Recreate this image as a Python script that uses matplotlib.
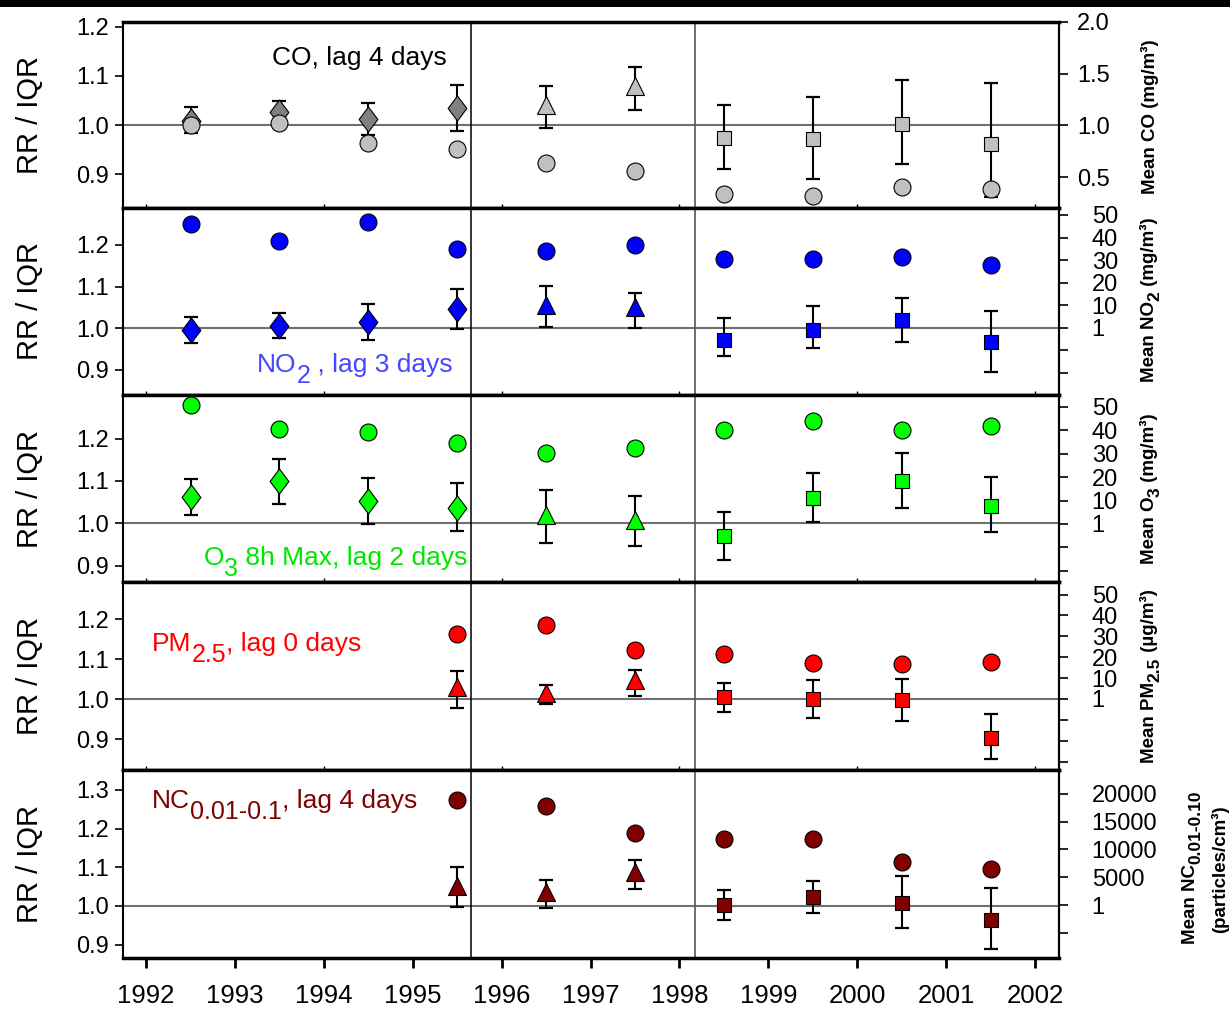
import numpy as np
import matplotlib
matplotlib.use('Agg')
import matplotlib.pyplot as plt
from matplotlib.path import Path
from matplotlib.patches import Rectangle
from matplotlib.transforms import offset_copy

plt.rcParams['font.family'] = ['Liberation Sans', 'DejaVu Sans']

# mid-year positions of the estimates
years = [1992.5, 1993.5, 1994.5, 1995.5, 1996.5, 1997.5, 1998.5, 1999.5, 2000.5, 2001.5]
year_ticks = list(range(1992, 2003))
period_breaks = [1995.66, 1998.17]

# marker shape per year (D = diamond, ^ = triangle, s = square)
shapes_long = ['D', 'D', 'D', 'D', '^', '^', 's', 's', 's', 's']
shapes_short = ['D', 'D', 'D', '^', '^', '^', 's', 's', 's', 's']

# CO, lag 4 days
co_rr = [1.009, 1.026, 1.012, 1.034, 1.040, 1.079, 0.974, 0.971, 1.002, 0.961]
co_lo = [0.983, 1.002, 0.980, 0.988, 0.995, 1.031, 0.910, 0.891, 0.920, 0.853]
co_hi = [1.037, 1.050, 1.044, 1.082, 1.080, 1.119, 1.041, 1.057, 1.091, 1.086]
co_mean = [1.00, 1.022, 0.831, 0.771, 0.634, 0.554, 0.340, 0.315, 0.400, 0.385]

# NO2, lag 3 days
no2_rr = [0.995, 1.006, 1.016, 1.046, 1.056, 1.052, 0.972, 0.995, 1.019, 0.968]
no2_lo = [0.964, 0.977, 0.972, 0.998, 1.002, 1.001, 0.934, 0.953, 0.968, 0.894]
no2_hi = [1.028, 1.036, 1.059, 1.094, 1.102, 1.084, 1.025, 1.054, 1.073, 1.041]
no2_mean = [46.0, 38.6, 46.8, 35.1, 34.2, 36.6, 30.6, 30.4, 31.5, 27.8]

# O3 8h max, lag 2 days
o3_rr = [1.061, 1.099, 1.053, 1.037, 1.020, 1.008, 0.969, 1.060, 1.099, 1.042]
o3_lo = [1.020, 1.046, 0.998, 0.981, 0.954, 0.946, 0.914, 1.004, 1.036, 0.980]
o3_hi = [1.104, 1.152, 1.107, 1.095, 1.079, 1.064, 1.027, 1.119, 1.166, 1.109]
o3_mean = [51.0, 40.7, 39.3, 34.6, 30.5, 32.3, 40.3, 44.0, 40.3, 41.7]

# PM2.5, lag 0 days
pm_rr = [None, None, None, 1.029, 1.015, 1.047, 1.004, 1.000, 0.997, 0.903]
pm_lo = [None, None, None, 0.978, 0.987, 1.007, 0.968, 0.953, 0.946, 0.849]
pm_hi = [None, None, None, 1.071, 1.036, 1.073, 1.040, 1.048, 1.050, 0.962]
pm_mean = [None, None, None, 31.2, 35.4, 23.3, 21.5, 17.1, 16.7, 17.6]

# NC 0.01-0.1, lag 4 days
nc_rr = [None, None, None, 1.051, 1.037, 1.088, 1.003, 1.023, 1.008, 0.965]
nc_lo = [None, None, None, 0.997, 0.996, 1.045, 0.965, 0.983, 0.944, 0.890]
nc_hi = [None, None, None, 1.101, 1.067, 1.119, 1.041, 1.065, 1.078, 1.047]
nc_mean = [None, None, None, 18940, 17750, 13000, 11920, 11920, 7790, 6530]

# tall diamond marker
diamond = Path([(0, 1), (0.75, 0), (0, -1), (-0.75, 0), (0, 1)],
               [Path.MOVETO, Path.LINETO, Path.LINETO, Path.LINETO, Path.CLOSEPOLY])
marker_style = {'D': (diamond, 18), '^': ('^', 12.3), 's': ('s', 10.5)}

# text pieces: (string, is_subscript)
panels = [
    dict(rr=co_rr, lo=co_lo, hi=co_hi, mean=co_mean, shapes=shapes_long,
         colors={'D': '#808080', '^': '#c0c0c0', 's': '#c0c0c0'}, circ='#c0c0c0',
         ylim=(0.831, 1.210), yticks=[0.9, 1.0, 1.1, 1.2],
         rlim=(0.2, 2.0), rticks=[0.5, 1.0, 1.5, 2.0], rlabels=['0.5', '1.0', '1.5', '2.0'], rpad=6.5,
         rtitle=[('Mean CO (mg/m³)', False)], rcenter=(1148, 117),
         title=[('CO, lag 4 days', False)], tcolor='black', tpos=(0.159, 0.768)),
    dict(rr=no2_rr, lo=no2_lo, hi=no2_hi, mean=no2_mean, shapes=shapes_long,
         colors=dict.fromkeys('D^s', '#0000ff'), circ='#0000ff',
         ylim=(0.840, 1.2885), yticks=[0.9, 1.0, 1.1, 1.2],
         rlim=(-29.9, 53.1), rticks=[-20, -10, 0, 10, 20, 30, 40, 50],
         rlabels=['', '', '1', '10', '20', '30', '40', '50'], rpad=17,
         rtitle=[('Mean NO', False), ('2', True), (' (mg/m³)', False)], rcenter=(1147, 300),
         title=[('NO', False), ('2', True), (' , lag 3 days', False)], tcolor='#4646ff', tpos=(0.143, 0.123)),
    dict(rr=o3_rr, lo=o3_lo, hi=o3_hi, mean=o3_mean, shapes=shapes_long,
         colors=dict.fromkeys('D^s', '#00ff00'), circ='#00ff00',
         ylim=(0.8616, 1.3026), yticks=[0.9, 1.0, 1.1, 1.2],
         rlim=(-24.8, 55.1), rticks=[-20, -10, 0, 10, 20, 30, 40, 50],
         rlabels=['', '', '1', '10', '20', '30', '40', '50'], rpad=17,
         rtitle=[('Mean O', False), ('3', True), (' (mg/m³)', False)], rcenter=(1147, 489),
         title=[('O', False), ('3', True), (' 8h Max, lag 2 days', False)], tcolor='#00e600', tpos=(0.0865, 0.089)),
    dict(rr=pm_rr, lo=pm_lo, hi=pm_hi, mean=pm_mean, shapes=shapes_short,
         colors=dict.fromkeys('D^s', '#ff0000'), circ='#ff0000',
         ylim=(0.8225, 1.2925), yticks=[0.9, 1.0, 1.1, 1.2],
         rlim=(-34.0, 56.0), rticks=[-30, -20, -10, 0, 10, 20, 30, 40, 50],
         rlabels=['', '', '', '1', '10', '20', '30', '40', '50'], rpad=17,
         rtitle=[('Mean PM', False), ('2.5', True), (' (µg/m³)', False)], rcenter=(1147, 676),
         title=[('PM', False), ('2.5', True), (', lag 0 days', False)], tcolor='#ff0000', tpos=(0.031, 0.635)),
    dict(rr=nc_rr, lo=nc_lo, hi=nc_hi, mean=nc_mean, shapes=shapes_short,
         colors=dict.fromkeys('D^s', '#800000'), circ='#800000',
         ylim=(0.8656, 1.3514), yticks=[0.9, 1.0, 1.1, 1.2, 1.3],
         rlim=(-9532, 24280), rticks=[-5000, 0, 5000, 10000, 15000, 20000],
         rlabels=['', '1', '5000', '10000', '15000', '20000'], rpad=17,
         rtitle=[('Mean NC', False), ('0.01-0.10', True)], rcenter=(1188, 867),
         title=[('NC', False), ('0.01-0.1', True), (', lag 4 days', False)], tcolor='#800000', tpos=(0.031, 0.798)),
]

# panel edges in pixels from the top of the figure
W, H = 1230, 1009
edges = [22, 208, 395, 582, 770, 958]
left_px, right_px = 123, 1059

fig = plt.figure(figsize=(W / 100, H / 100), dpi=100)
renderer = fig.canvas.get_renderer()
fig.patches.append(Rectangle((0, 1 - 7 / H), 1, 7 / H, transform=fig.transFigure,
                             facecolor='black', edgecolor='none'))


def text_width(s, size, weight):
    # bars on both sides so leading/trailing spaces are counted
    probe = fig.text(0, 0, '|' + s + '|', fontsize=size, fontweight=weight)
    bars = fig.text(0, 0, '||', fontsize=size, fontweight=weight)
    w = probe.get_window_extent(renderer).width - bars.get_window_extent(renderer).width
    probe.remove()
    bars.remove()
    return w


def rich_text(x, y, pieces, trans, size, sub_size, drop, rotation=0, center=False,
              weight='normal', color='black'):
    widths = [text_width(s, sub_size if sub else size, weight) for s, sub in pieces]
    pos = -sum(widths) / 2 if center else 0
    for (s, sub), w in zip(pieces, widths):
        if rotation == 90:
            dx, dy = (drop if sub else 0), pos
        else:
            dx, dy = pos, (-drop if sub else 0)
        fig.text(x, y, s, transform=offset_copy(trans, x=dx, y=dy, units='dots'),
                 fontsize=sub_size if sub else size, fontweight=weight, color=color,
                 rotation=rotation, rotation_mode='anchor', ha='left', va='baseline')
        pos += w


x = np.array(years)

for i, p in enumerate(panels):
    top, bot = edges[i], edges[i + 1]
    ax = fig.add_axes([left_px / W, 1 - bot / H, (right_px - left_px) / W, (bot - top) / H])
    ax.set_xlim(1991.74, 2002.27)
    ax.set_ylim(*p['ylim'])
    ax.set_yticks(p['yticks'])
    ax.set_yticklabels(['%.1f' % v for v in p['yticks']])
    ax.tick_params(axis='y', direction='out', length=6, width=1.2, pad=4, labelsize=17)
    ax.axhline(1.0, color='#707070', lw=1.5, zorder=1)
    ax.axvline(period_breaks[0], color='black', lw=1.1, zorder=1)
    ax.axvline(period_breaks[1], color='#555555', lw=1.2, zorder=1)
    for side in ['top', 'bottom']:
        ax.spines[side].set_linewidth(2.5)
    ax.spines['left'].set_linewidth(1.5)
    ax.spines['right'].set_linewidth(1.5)

    if i == len(panels) - 1:
        ax.set_xticks(year_ticks)
        ax.set_xticklabels([str(y) for y in year_ticks])
        ax.tick_params(axis='x', direction='out', length=7.5, width=2, pad=11, labelsize=18.5)
    else:
        ax.set_xticks(year_ticks[::2])
        ax.tick_params(axis='x', direction='in', length=3, width=1, labelbottom=False)

    rr = np.array(p['rr'], dtype=float)
    lo = np.array(p['lo'], dtype=float)
    hi = np.array(p['hi'], dtype=float)
    shapes = np.array(p['shapes'])
    for key, (mk, ms) in marker_style.items():
        sel = shapes == key
        col = p['colors'][key]
        ax.errorbar(x[sel], rr[sel], yerr=[rr[sel] - lo[sel], hi[sel] - rr[sel]], fmt='none',
                    ecolor='black', elinewidth=1.5, capsize=5, capthick=1.6, zorder=3)
        ax.plot(x[sel], rr[sel], linestyle='none', marker=mk, ms=ms, mfc=col,
                mec='black', mew=0.8, zorder=4)

    rich_text(p['tpos'][0], p['tpos'][1], p['title'], ax.transAxes,
              size=19, sub_size=18, drop=11, color=p['tcolor'])

    ax.text(-0.099, 0.5, 'RR / IQR', transform=ax.transAxes, rotation=90,
            fontsize=21, ha='center', va='center')

    # mean concentration on the right axis
    ax2 = ax.twinx()
    ax2.set_ylim(*p['rlim'])
    ax2.set_yticks(p['rticks'])
    ax2.set_yticklabels(p['rlabels'])
    ax2.tick_params(axis='y', direction='out', length=6.5, width=1.2, pad=p['rpad'], labelsize=17)
    for side in ['top', 'bottom', 'left']:
        ax2.spines[side].set_visible(False)
    ax2.spines['right'].set_linewidth(1.5)
    mean = np.array(p['mean'], dtype=float)
    ax2.plot(x, mean, linestyle='none', marker='o', ms=12.2, mfc=p['circ'],
             mec='black', mew=0.8, zorder=5)

    # rotated bold title, baseline sits right of the visual centre
    cx, cy = p['rcenter']
    rich_text((cx + 6.7) / W, 1 - cy / H, p['rtitle'], fig.transFigure,
              size=13.5, sub_size=12.5, drop=6, rotation=90, center=True, weight='bold')

# second line of the particle number label
rich_text((1218 + 6.7) / W, 1 - 869 / H, [('(particles/cm³)', False)], fig.transFigure,
          size=13.5, sub_size=12.5, drop=6, rotation=90, center=True, weight='bold')

fig.savefig('out.png', dpi=100)
